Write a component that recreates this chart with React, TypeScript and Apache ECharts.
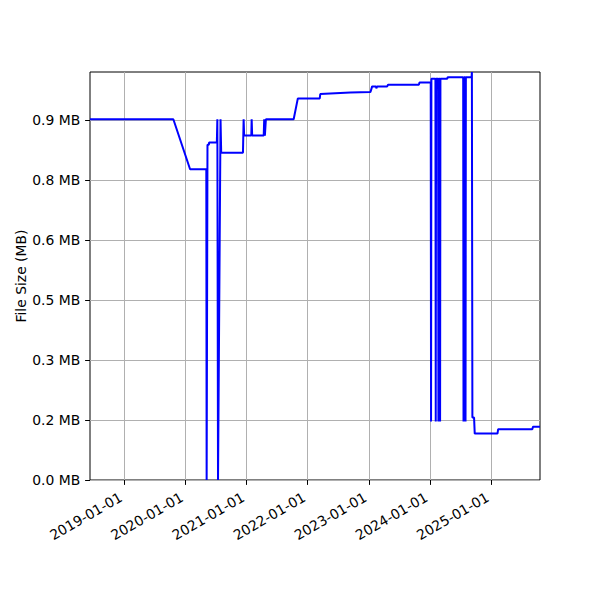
import React, { useEffect, useRef } from 'react';
import * as echarts from 'echarts';

// commit dates and file size (axis units, labels are rounded MB)
const dates = [
  '2018-06-10', '2019-10-21', '2020-01-29', '2020-05-05', '2020-05-07', '2020-05-12',
  '2020-05-20', '2020-05-22', '2020-07-07', '2020-07-10', '2020-07-14', '2020-07-29',
  '2020-08-02', '2020-12-10', '2020-12-14', '2020-12-17', '2021-01-29', '2021-01-31',
  '2021-02-03', '2021-04-13', '2021-04-16', '2021-04-20', '2021-04-26', '2021-10-09',
  '2021-11-03', '2022-03-14', '2022-03-17', '2022-06-15', '2022-09-13', '2023-01-11',
  '2023-01-21', '2023-02-13', '2023-02-15', '2023-02-20', '2023-04-21', '2023-04-26',
  '2023-10-27', '2023-10-31', '2024-01-06', '2024-01-08', '2024-01-10', '2024-02-03',
  '2024-02-05', '2024-02-07', '2024-02-19', '2024-02-21', '2024-02-23', '2024-02-29',
  '2024-03-02', '2024-03-04', '2024-04-14', '2024-04-16', '2024-07-18', '2024-07-20',
  '2024-07-23', '2024-07-30', '2024-08-01', '2024-08-03', '2024-09-06', '2024-09-08',
  '2024-09-11', '2024-09-21', '2024-09-25', '2025-02-08', '2025-02-12', '2025-09-04',
  '2025-09-08', '2025-10-20',
];
const sizes = [
  0.902, 0.902, 0.777, 0.777, 0.0, 0.838,
  0.838, 0.844, 0.844, 0.902, 0.0, 0.902,
  0.818, 0.818, 0.902, 0.861, 0.861, 0.902,
  0.861, 0.861, 0.902, 0.861, 0.902, 0.902,
  0.954, 0.954, 0.965, 0.967, 0.969, 0.970,
  0.984, 0.984, 0.979, 0.984, 0.984, 0.988,
  0.988, 0.994, 0.994, 0.146, 1.003, 1.003,
  0.146, 1.003, 1.003, 0.146, 1.003, 1.003,
  0.146, 1.003, 1.003, 1.007, 1.007, 0.146,
  1.007, 1.007, 0.146, 1.007, 1.007, 1.02,
  0.156, 0.156, 0.116, 0.116, 0.127, 0.127,
  0.133, 0.133,
];

const xTickDates = ['2019-01-01', '2020-01-01', '2021-01-01', '2022-01-01', '2023-01-01', '2024-01-01', '2025-01-01'];
const yTicks = [0, 0.15, 0.3, 0.45, 0.6, 0.75, 0.9];
const yTickLabels = ['0.0 MB', '0.2 MB', '0.3 MB', '0.5 MB', '0.6 MB', '0.8 MB', '0.9 MB'];

const toTime = (s: string) => {
  const [y, m, d] = s.split('-').map(Number);
  return Date.UTC(y, m - 1, d);
};

const font = 'DejaVu Sans';

const App = () => {
  const chartRef = useRef<HTMLDivElement>(null);

  useEffect(() => {
    if (!chartRef.current) return;
    document.body.style.margin = '0';

    const chart = echarts.init(chartRef.current, null, { renderer: 'svg' });
    const xTicks = xTickDates.map(toTime);

    const option = {
      animation: false,
      grid: {
        left: 90,
        right: 60,
        top: 72,
        bottom: 120,
        show: true,
        borderColor: '#000',
        borderWidth: 1,
        backgroundColor: 'transparent',
      },
      xAxis: {
        type: 'value',
        min: toTime(dates[0]),
        max: toTime(dates[dates.length - 1]),
        axisLine: { show: false },
        axisTick: {
          customValues: xTicks,
          length: 4.9,
          lineStyle: { color: '#000', width: 1 },
        },
        axisLabel: {
          customValues: xTicks,
          rotate: 30,
          align: 'right',
          verticalAlign: 'bottom',
          margin: 22,
          color: '#000',
          fontSize: 13.9,
          fontFamily: font,
          formatter: (v: number) => {
            const i = xTicks.indexOf(v);
            return i >= 0 ? xTickDates[i] : '';
          },
        },
        splitLine: { show: true, lineStyle: { color: '#b0b0b0', width: 1 } },
      },
      yAxis: {
        type: 'value',
        min: 0,
        max: 1.02,
        name: 'File Size (MB)',
        nameLocation: 'middle',
        nameGap: 62,
        nameMoveOverlap: false,
        nameTextStyle: { color: '#000', fontSize: 13.9, fontFamily: font },
        axisLine: { show: false },
        axisTick: {
          customValues: yTicks,
          length: 4.9,
          lineStyle: { color: '#000', width: 1 },
        },
        axisLabel: {
          customValues: yTicks,
          margin: 9.7,
          color: '#000',
          fontSize: 13.9,
          fontFamily: font,
          formatter: (v: number) => {
            const i = yTicks.findIndex((t) => Math.abs(t - v) < 1e-9);
            return i >= 0 ? yTickLabels[i] : '';
          },
        },
        splitLine: { show: true, lineStyle: { color: '#b0b0b0', width: 1 } },
      },
      series: [
        {
          type: 'line',
          showSymbol: false,
          symbol: 'none',
          lineStyle: { color: '#0000ff', width: 2 },
          data: dates.map((d, i) => [toTime(d), sizes[i]]),
        },
      ],
    };

    chart.setOption(option as any);

    return () => {
      chart.dispose();
    };
  }, []);

  return <div ref={chartRef} style={{ width: '600px', height: '600px' }} />;
};

export default App;
